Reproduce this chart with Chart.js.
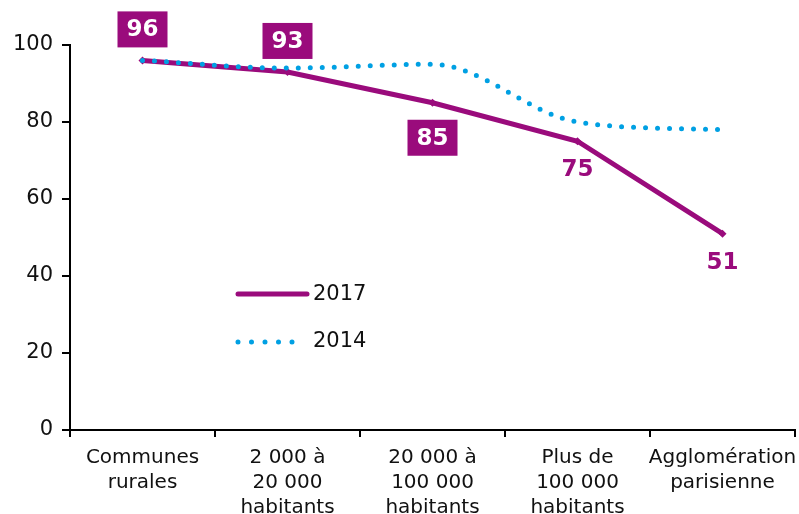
<!DOCTYPE html>
<html>
<head>
<meta charset="utf-8">
<script src="https://cdn.jsdelivr.net/npm/chart.js@4/dist/chart.umd.min.js"></script>
<style>
  html, body { margin: 0; padding: 0; background: #fff; }
  #wrap { width: 799px; height: 514px; }
</style>
</head>
<body>
<div id="wrap"><canvas id="chart"></canvas></div>
<script>
const categories = [
  ['Communes', 'rurales'],
  ['2 000 à', '20 000', 'habitants'],
  ['20 000 à', '100 000', 'habitants'],
  ['Plus de', '100 000', 'habitants'],
  ['Agglomération', 'parisienne'],
]
const values2017 = [96, 93, 85, 75, 51]
const values2014 = [96, 94, 95, 80, 78]
const yTicks = [0, 20, 40, 60, 80, 100]

// how each 2017 label is shown: boxed or plain, above or below the point
const labelStyle = ['boxAbove', 'boxAbove', 'boxBelow', 'textBelow', 'textBelow']

const PURPLE = '#9a0b7c'
const BLUE = '#00a0e3'
const FONT = '"DejaVu Sans", Verdana, sans-serif'

const valueLabels = {
  id: 'valueLabels',
  afterDatasetsDraw(chart) {
    const ctx = chart.ctx
    const meta = chart.getDatasetMeta(0)
    ctx.save()
    ctx.font = 'bold 23px ' + FONT
    ctx.textAlign = 'center'
    ctx.textBaseline = 'middle'
    meta.data.forEach((pt, i) => {
      const text = String(values2017[i])
      const style = labelStyle[i]
      const cy = style === 'boxAbove' ? pt.y - 31 : style === 'boxBelow' ? pt.y + 35 : pt.y + 28
      if (style.startsWith('box')) {
        ctx.fillStyle = PURPLE
        ctx.fillRect(pt.x - 25, cy - 18, 50, 36)
        ctx.fillStyle = '#fff'
      } else {
        ctx.fillStyle = PURPLE
      }
      ctx.fillText(text, pt.x, cy + 1)
    })
    ctx.restore()
  },
}

const insideLegend = {
  id: 'insideLegend',
  afterDraw(chart) {
    const ctx = chart.ctx
    ctx.save()
    ctx.lineCap = 'round'
    // 2017
    ctx.strokeStyle = PURPLE
    ctx.lineWidth = 5
    ctx.beginPath()
    ctx.moveTo(238, 294)
    ctx.lineTo(307, 294)
    ctx.stroke()
    // 2014
    ctx.strokeStyle = BLUE
    ctx.setLineDash([0, 13.5])
    ctx.beginPath()
    ctx.moveTo(238, 342)
    ctx.lineTo(304, 342)
    ctx.stroke()
    ctx.setLineDash([])
    ctx.fillStyle = '#111'
    ctx.font = '21px ' + FONT
    ctx.textBaseline = 'middle'
    ctx.fillText('2017', 313, 295)
    ctx.fillText('2014', 313, 342)
    ctx.restore()
  },
}

new Chart(document.getElementById('chart'), {
  type: 'line',
  data: {
    labels: categories,
    datasets: [
      {
        label: '2017',
        data: values2017,
        borderColor: PURPLE,
        backgroundColor: PURPLE,
        borderWidth: 5,
        tension: 0,
        pointStyle: 'rectRot',
        pointRadius: 4,
        pointBorderWidth: 0,
        order: 1,
      },
      {
        label: '2014',
        data: values2014,
        borderColor: BLUE,
        borderWidth: 5,
        borderDash: [0, 12],
        borderCapStyle: 'round',
        cubicInterpolationMode: 'monotone',
        pointRadius: 0,
        order: 0,
      },
    ],
  },
  options: {
    responsive: true,
    maintainAspectRatio: false,
    animation: false,
    layout: { padding: { top: 45, right: 4, left: 0, bottom: 0 } },
    plugins: { legend: { display: false }, tooltip: { enabled: false } },
    scales: {
      x: {
        offset: true,
        afterFit: (axis) => {
          axis.height = 84
          axis.paddingLeft = 0
          axis.paddingRight = 0
        },
        grid: { offset: true, drawOnChartArea: false, drawTicks: true, tickLength: 7, color: '#000', lineWidth: 2 },
        border: { color: '#000', width: 2 },
        ticks: { color: '#111', font: { family: FONT, size: 20, lineHeight: 1.25 }, maxRotation: 0, autoSkip: false, padding: 8 },
      },
      y: {
        min: 0,
        max: 100,
        afterFit: (axis) => { axis.width = 70 },
        afterBuildTicks: (axis) => { axis.ticks = yTicks.map((v) => ({ value: v })) },
        grid: { drawOnChartArea: false, drawTicks: true, tickLength: 8, color: '#000', lineWidth: 2 },
        border: { color: '#000', width: 2 },
        ticks: { color: '#111', font: { family: FONT, size: 21 }, padding: 9 },
      },
    },
  },
  plugins: [valueLabels, insideLegend],
})
</script>
</body>
</html>
